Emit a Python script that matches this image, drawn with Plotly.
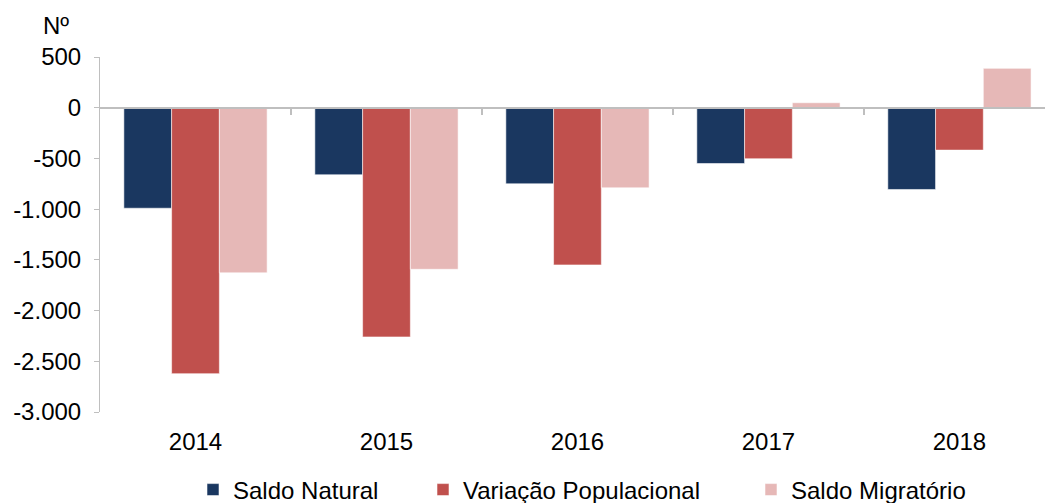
import plotly.graph_objects as go

years = ["2014", "2015", "2016", "2017", "2018"]
saldo_natural = [-991, -661, -750, -550, -806]
variacao_populacional = [-2622, -2260, -1550, -503, -418]
saldo_migratorio = [-1628, -1593, -790, 49, 388]

y_ticks = [500, 0, -500, -1000, -1500, -2000, -2500, -3000]
y_tick_labels = ["500", "0", "-500", "-1.000", "-1.500", "-2.000", "-2.500", "-3.000"]

FONT = "Liberation Sans, Arial, sans-serif"
FS = 24
W, H = 1045, 503

# (name, values, colour, legend id, legend left edge in px)
series = [
    ("Saldo Natural", saldo_natural, "#1A3760", "legend", 193),
    ("Variação Populacional", variacao_populacional, "#C0504D", "legend2", 423),
    ("Saldo Migratório", saldo_migratorio, "#E6B8B7", "legend3", 751),
]

fig = go.Figure()
for name, values, color, legend_id, _ in series:
    fig.add_trace(
        go.Bar(
            x=years,
            y=values,
            name=name,
            legend=legend_id,
            marker=dict(color=color, line=dict(color="rgba(255,255,255,0.55)", width=1)),
        )
    )

# invisible helper trace for the axis that draws the separators on the zero line
fig.add_trace(
    go.Scatter(x=[0], y=[0], xaxis="x2", mode="markers", opacity=0,
               showlegend=False, hoverinfo="skip")
)

x_range = [-0.5, 4.448]

legends = {}
for _, _, _, legend_id, left_px in series:
    legends[legend_id] = dict(
        orientation="h",
        xref="container",
        yref="container",
        x=left_px / W,
        xanchor="left",
        y=1 - 490 / H,
        yanchor="middle",
        font=dict(size=FS),
        itemwidth=30,
        bgcolor="rgba(0,0,0,0)",
    )

fig.update_layout(
    width=W,
    height=H,
    margin=dict(l=100, r=0, t=57, b=91),
    paper_bgcolor="white",
    plot_bgcolor="white",
    font=dict(family=FONT, size=FS, color="#000000"),
    barmode="group",
    bargap=0.25,
    bargroupgap=0,
    showlegend=True,
    **legends,
    xaxis=dict(
        type="category",
        range=x_range,
        showline=False,
        showgrid=False,
        zeroline=False,
        ticks="",
        ticklabelstandoff=13,
        tickfont=dict(size=FS),
        automargin=False,
    ),
    xaxis2=dict(
        overlaying="x",
        anchor="free",
        position=3000 / 3500,
        range=x_range,
        showline=True,
        linecolor="#BFBFBF",
        linewidth=2,
        showgrid=False,
        zeroline=False,
        ticks="outside",
        ticklen=6,
        tickcolor="#BFBFBF",
        tickwidth=2,
        tickvals=[0.5, 1.5, 2.5, 3.5],
        showticklabels=False,
    ),
    yaxis=dict(
        range=[-3000, 500],
        tickvals=y_ticks,
        ticktext=y_tick_labels,
        showgrid=False,
        zeroline=False,
        showline=True,
        linecolor="#BFBFBF",
        linewidth=1,
        ticks="outside",
        ticklen=5,
        tickcolor="#BFBFBF",
        ticklabelstandoff=8,
        tickfont=dict(size=FS),
        automargin=False,
    ),
    annotations=[
        dict(
            text="Nº",
            xref="paper",
            yref="paper",
            x=-0.031,
            y=1.0,
            xanchor="right",
            yanchor="bottom",
            yshift=16,
            showarrow=False,
            font=dict(size=FS),
        )
    ],
)

# drop the browser's default page margin so the figure sits at the window's corner
fig.write_html(
    "out.html",
    config={"displayModeBar": False},
    post_script="document.body.style.margin = '0';",
)
